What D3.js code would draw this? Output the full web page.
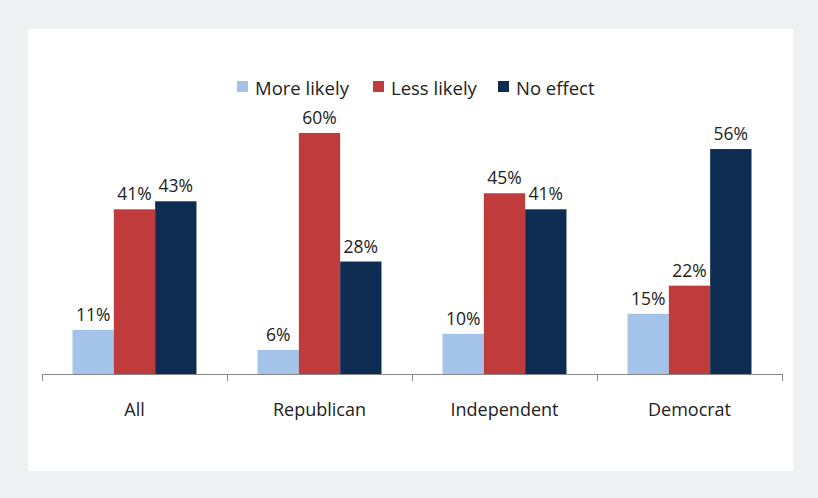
<!DOCTYPE html>
<html>
<head>
<meta charset="utf-8">
<script src="https://cdn.jsdelivr.net/npm/d3@7"></script>
<style>
  html, body { margin: 0; padding: 0; background: #eef0f2; }
  svg { display: block; }
  text { font-family: "Open Sans", "Liberation Sans", sans-serif; fill: #222; }
</style>
</head>
<body>
<script>
// Party breakdown of how a candidate position affects vote likelihood
const categories = ["All", "Republican", "Independent", "Democrat"];
const seriesNames = ["More likely", "Less likely", "No effect"];
const moreLikely = [11, 6, 10, 15];
const lessLikely = [41, 60, 45, 22];
const noEffect = [43, 28, 41, 56];
const seriesColors = ["#a4c3e9", "#bf3b3c", "#0e2b52"];

const W = 818, H = 498;
const svg = d3.select("body").append("svg").attr("width", W).attr("height", H);

// white chart panel on the grey frame
svg.append("rect").attr("x", 28).attr("y", 29).attr("width", 765).attr("height", 442).attr("fill", "#ffffff");

const baseY = 374;
const x0 = d3.scaleBand().domain(categories).range([42, 782]).paddingInner(0.33).paddingOuter(0.165);
const x1 = d3.scaleBand().domain(seriesNames).range([0, x0.bandwidth()]);
const y = d3.scaleLinear().domain([0, 60]).range([baseY, 133]);

const values = [moreLikely, lessLikely, noEffect];
const rows = [];
categories.forEach((c, i) => {
  seriesNames.forEach((s, j) => rows.push({ cat: c, series: s, value: values[j][i], color: seriesColors[j] }));
});

const bars = svg.append("g");
bars.selectAll("rect").data(rows).join("rect")
  .attr("x", d => x0(d.cat) + x1(d.series))
  .attr("y", d => y(d.value))
  .attr("width", x1.bandwidth())
  .attr("height", d => baseY - y(d.value))
  .attr("fill", d => d.color);

bars.selectAll("text").data(rows).join("text")
  .attr("x", d => x0(d.cat) + x1(d.series) + x1.bandwidth() / 2)
  .attr("y", d => y(d.value) - 9)
  .attr("text-anchor", "middle")
  .attr("font-size", 17.5)
  .text(d => d.value + "%");

// category axis with boundary ticks
const axisX = d3.scalePoint().domain(d3.range(categories.length + 1)).range([42, 782]);
const axis = svg.append("g");
axis.append("line").attr("x1", 42).attr("x2", 782).attr("y1", baseY + 0.5).attr("y2", baseY + 0.5)
  .attr("stroke", "#888").attr("stroke-width", 1);
axis.selectAll("line.tick").data(axisX.domain()).join("line").attr("class", "tick")
  .attr("x1", d => Math.round(axisX(d)) + 0.5).attr("x2", d => Math.round(axisX(d)) + 0.5)
  .attr("y1", baseY).attr("y2", baseY + 7)
  .attr("stroke", "#888");
axis.selectAll("text").data(categories).join("text")
  .attr("x", d => x0(d) + x0.bandwidth() / 2)
  .attr("y", 416)
  .attr("text-anchor", "middle")
  .attr("font-size", 18)
  .text(d => d);

// legend
const legendX = [237, 373, 498];
const legend = svg.append("g");
seriesNames.forEach((s, j) => {
  legend.append("rect").attr("x", legendX[j]).attr("y", 81).attr("width", 11).attr("height", 11).attr("fill", seriesColors[j]);
  legend.append("text").attr("x", legendX[j] + 18).attr("y", 95).attr("font-size", 18.5).text(s);
});
</script>
</body>
</html>
